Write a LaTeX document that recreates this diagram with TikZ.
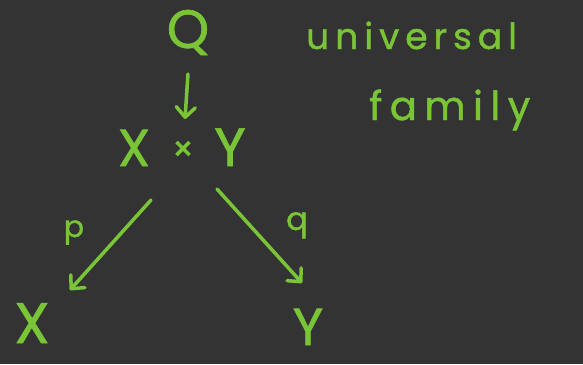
\documentclass[tikz,border=0pt]{standalone}
\usepackage{fontspec}
\setmainfont{Poppins}[UprightFeatures={FakeBold=1.2}]
\usetikzlibrary{arrows.meta}
\definecolor{bg}{RGB}{51,51,51}
\definecolor{ink}{RGB}{122,197,55}
\tikzset{
  lbl/.style={text=ink, inner sep=0pt, anchor=base},
  arr/.style={draw=ink, line width=3.5pt, line cap=round, line join=round,
    -{Straight Barb[length=10pt,width=19pt,line width=3.5pt,round]}},
}
\newcommand{\gp}{\hspace{7.5pt}}
\begin{document}
\begin{tikzpicture}[x=1pt,y=-1pt]
\fill[bg] (0,0) rectangle (583,364);
\useasboundingbox (0,0) rectangle (583,364);
% Q
\node[lbl, font=\fontsize{54}{60}\selectfont] (Q) at (188,48) {Q};
% product
\node[lbl, font=\fontsize{52}{58}\selectfont] (X1) at (134,166) {X};
\node[lbl, font=\fontsize{34}{40}\selectfont] (T) at (183,161) {×};
\node[lbl, font=\fontsize{54}{60}\selectfont] (Y1) at (230,166) {Y};
% bottom
\node[lbl, font=\fontsize{52}{60}\selectfont, scale=1.1] (X2) at (32,343) {X};
\node[lbl, font=\fontsize{52}{60}\selectfont] (Y2) at (308,345) {Y};
% labels
\node[lbl, font=\fontsize{30}{34}\selectfont] (pl) at (74,237) {p};
\node[lbl, font=\fontsize{32}{36}\selectfont] (ql) at (297,230) {q};
\node[lbl, font=\fontsize{36}{42}\selectfont, anchor=base west] (u) at (306,49) {u\,n\,i\,v\,e\,r\,s\,a\,l};
\node[lbl, font=\fontsize{40}{46}\selectfont, anchor=base west] (f) at (369,120) {f\gp a\gp m\gp i\gp l\gp y};
% arrows
\draw[arr] (Q.south |- 0,74) -- (185,119);
\draw[arr] (151,200) -- (70,290);
\draw[arr] (217,189) -- (302,283);
\end{tikzpicture}
\end{document}
